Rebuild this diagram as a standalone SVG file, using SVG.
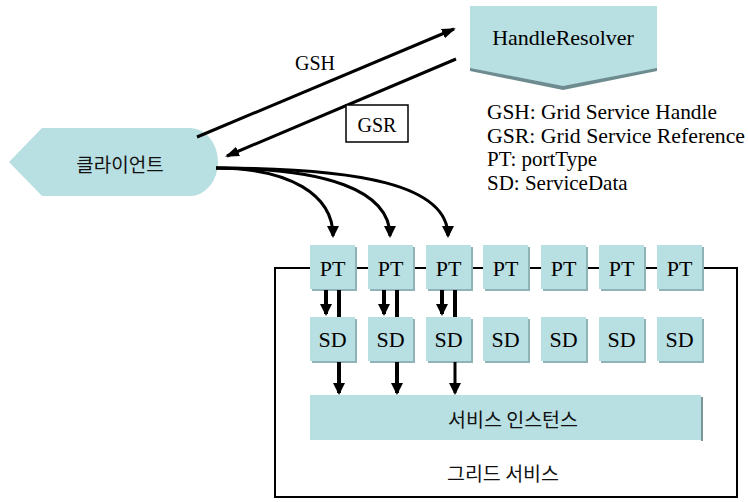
<svg xmlns="http://www.w3.org/2000/svg" width="748" height="502" viewBox="0 0 748 502">
<defs>
<style>
.box{fill:#b8dfe2}
.sh{fill:#8fb3b6}
.lat{font-family:"Liberation Serif","Times New Roman",serif;fill:#000}
.kr{font-family:"Noto Sans CJK KR","Noto Sans",sans-serif;fill:#111}
.ln{stroke:#000;fill:none}
</style>
<marker id="big" markerUnits="userSpaceOnUse" markerWidth="14" markerHeight="10" refX="12" refY="5" orient="auto">
<path d="M0,0 L14,5 L0,10 z" fill="#000"/>
</marker>
<marker id="sm" markerUnits="userSpaceOnUse" markerWidth="12" markerHeight="12" refX="10" refY="6" orient="auto">
<path d="M0,0 L12,6 L0,12 z" fill="#000"/>
</marker>
</defs>
<rect width="748" height="502" fill="#fff"/>

<g id="grid-service">
<rect x="275" y="268" width="462" height="229" fill="none" stroke="#000" stroke-width="2"/>
<text class="kr" x="503" y="472" font-size="19.5" text-anchor="middle" dominant-baseline="central">그리드 서비스</text>
</g>

<g id="handle-resolver">
<polygon points="470,9 657,9 657,71 563,90 470,71" fill="#6e8c8f"/>
<polygon class="box" points="470,6 657,6 657,68 563,86 470,68"/>
<text class="lat" x="563" y="45" font-size="22" text-anchor="middle">HandleResolver</text>
</g>

<g id="client">
<path class="box" d="M9,162 L42,128 L190,128 A28,34 0 0 1 190,196 L42,196 Z"/>
<text class="kr" x="120" y="163" font-size="19" text-anchor="middle" dominant-baseline="central">클라이언트</text>
</g>

<g id="legend" class="lat" font-size="21">
<text x="487" y="119" textLength="230" lengthAdjust="spacingAndGlyphs">GSH: Grid Service Handle</text>
<text x="487" y="143" textLength="258" lengthAdjust="spacingAndGlyphs">GSR: Grid Service Reference</text>
<text x="487" y="166">PT: portType</text>
<text x="487" y="190">SD: ServiceData</text>
</g>

<g id="pt-nodes">
<g id="pt1"><rect class="sh" x="312" y="247" width="45" height="44"/><rect class="box" x="310" y="245" width="45" height="44"/><text class="lat" x="332.5" y="276" font-size="22" text-anchor="middle">PT</text></g>
<g id="pt2"><rect class="sh" x="370" y="247" width="45" height="44"/><rect class="box" x="368" y="245" width="45" height="44"/><text class="lat" x="390.5" y="276" font-size="22" text-anchor="middle">PT</text></g>
<g id="pt3"><rect class="sh" x="428" y="247" width="45" height="44"/><rect class="box" x="426" y="245" width="45" height="44"/><text class="lat" x="448.5" y="276" font-size="22" text-anchor="middle">PT</text></g>
<g id="pt4"><rect class="sh" x="485" y="247" width="45" height="44"/><rect class="box" x="483" y="245" width="45" height="44"/><text class="lat" x="505.5" y="276" font-size="22" text-anchor="middle">PT</text></g>
<g id="pt5"><rect class="sh" x="543" y="247" width="45" height="44"/><rect class="box" x="541" y="245" width="45" height="44"/><text class="lat" x="563.5" y="276" font-size="22" text-anchor="middle">PT</text></g>
<g id="pt6"><rect class="sh" x="601" y="247" width="45" height="44"/><rect class="box" x="599" y="245" width="45" height="44"/><text class="lat" x="621.5" y="276" font-size="22" text-anchor="middle">PT</text></g>
<g id="pt7"><rect class="sh" x="659" y="247" width="45" height="44"/><rect class="box" x="657" y="245" width="45" height="44"/><text class="lat" x="679.5" y="276" font-size="22" text-anchor="middle">PT</text></g>
</g>

<g id="sd-nodes">
<g id="sd1"><rect class="sh" x="312" y="319" width="45" height="44"/><rect class="box" x="310" y="317" width="45" height="44"/><text class="lat" x="332.5" y="347" font-size="22" text-anchor="middle">SD</text></g>
<g id="sd2"><rect class="sh" x="370" y="319" width="45" height="44"/><rect class="box" x="368" y="317" width="45" height="44"/><text class="lat" x="390.5" y="347" font-size="22" text-anchor="middle">SD</text></g>
<g id="sd3"><rect class="sh" x="428" y="319" width="45" height="44"/><rect class="box" x="426" y="317" width="45" height="44"/><text class="lat" x="448.5" y="347" font-size="22" text-anchor="middle">SD</text></g>
<g id="sd4"><rect class="sh" x="485" y="319" width="45" height="44"/><rect class="box" x="483" y="317" width="45" height="44"/><text class="lat" x="505.5" y="347" font-size="22" text-anchor="middle">SD</text></g>
<g id="sd5"><rect class="sh" x="543" y="319" width="45" height="44"/><rect class="box" x="541" y="317" width="45" height="44"/><text class="lat" x="563.5" y="347" font-size="22" text-anchor="middle">SD</text></g>
<g id="sd6"><rect class="sh" x="601" y="319" width="45" height="44"/><rect class="box" x="599" y="317" width="45" height="44"/><text class="lat" x="621.5" y="347" font-size="22" text-anchor="middle">SD</text></g>
<g id="sd7"><rect class="sh" x="659" y="319" width="45" height="44"/><rect class="box" x="657" y="317" width="45" height="44"/><text class="lat" x="679.5" y="347" font-size="22" text-anchor="middle">SD</text></g>
</g>

<g id="service-instance">
<rect x="701" y="397" width="2" height="44" fill="#7a9598"/>
<rect class="box" x="310" y="395" width="391" height="45"/>
<text class="kr" x="513" y="418" font-size="19.5" text-anchor="middle" dominant-baseline="central">서비스 인스턴스</text>
</g>

<g id="connectors">
<line class="ln" x1="197" y1="137" x2="454" y2="29" stroke-width="3" marker-end="url(#big)"/>
<text class="lat" x="315" y="70" font-size="20" text-anchor="middle">GSH</text>
<line class="ln" x1="456" y1="59" x2="227" y2="156" stroke-width="3" marker-end="url(#big)"/>
<rect x="346" y="105" width="62" height="37" fill="#fff" stroke="#000" stroke-width="1.5"/>
<text class="lat" x="377" y="132" font-size="20" text-anchor="middle">GSR</text>

<path class="ln" d="M216,168 C290,168 333,195 333,236" stroke-width="3" marker-end="url(#sm)"/>
<path class="ln" d="M216,168 C325,168 390,190 390,236" stroke-width="3" marker-end="url(#sm)"/>
<path class="ln" d="M216,168 C360,168 448,185 448,236" stroke-width="3" marker-end="url(#sm)"/>

<line class="ln" x1="326" y1="290" x2="326" y2="314" stroke-width="4" marker-end="url(#sm)"/>
<line class="ln" x1="384" y1="290" x2="384" y2="314" stroke-width="4" marker-end="url(#sm)"/>
<line class="ln" x1="442" y1="290" x2="442" y2="314" stroke-width="4" marker-end="url(#sm)"/>
<line class="ln" x1="339" y1="290" x2="339" y2="317" stroke-width="4"/>
<line class="ln" x1="397" y1="290" x2="397" y2="317" stroke-width="4"/>
<line class="ln" x1="455" y1="290" x2="455" y2="317" stroke-width="4"/>
<line class="ln" x1="339" y1="362" x2="339" y2="393" stroke-width="4" marker-end="url(#sm)"/>
<line class="ln" x1="397" y1="362" x2="397" y2="393" stroke-width="4" marker-end="url(#sm)"/>
<line class="ln" x1="455" y1="362" x2="455" y2="393" stroke-width="3" marker-end="url(#sm)"/>
</g>
</svg>
